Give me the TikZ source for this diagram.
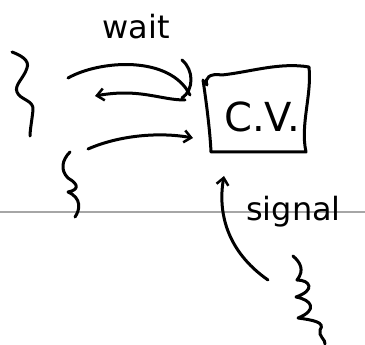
\documentclass[tikz,border=0pt]{standalone}
\usepackage{fontspec}
\setmainfont{DejaVu Sans}
\usetikzlibrary{arrows.meta}
\tikzset{
  ink/.style={line width=3pt, line cap=round, line join=round, black},
  handarrow/.style={ink, -{Straight Barb[length=7pt,width=12pt,line width=2.5pt]}},
  label/.style={inner sep=0pt},
}
\begin{document}
\begin{tikzpicture}[x=1pt,y=-1pt]
\useasboundingbox (0,0) rectangle (365,345);
% divider
\draw[gray!70, line width=1.6pt] (0,212) -- (365,212);
% threads (squiggles)
\draw[ink] (12,52) .. controls (20,55) and (30,60) .. (27,68) .. controls (24,78) and (14,85) .. (17,92)
  .. controls (20,100) and (34,100) .. (33,110) .. controls (32,120) and (30,130) .. (30,136);
\draw[ink] (70,152) .. controls (62,160) and (60,170) .. (68,178) .. controls (80,185) and (78,190) .. (68,192)
  .. controls (82,198) and (80,210) .. (75,217);
\draw[ink] (293,256) .. controls (300,262) and (305,270) .. (297,280) .. controls (310,280) and (316,290) .. (296,297)
  .. controls (312,300) and (318,310) .. (298,318) .. controls (312,320) and (326,322) .. (320,330)
  .. controls (318,336) and (326,340) .. (325,344);
% C.V. box
\node[inner sep=0pt, minimum width=100pt, minimum height=80pt] (cv) at (258,112) {};
\draw[ink] (207,85) .. controls (204,78) and (210,73) .. (222,75) .. controls (250,72) and (280,62) .. (309,67)
  .. controls (312,95) and (300,125) .. (306,152) .. controls (280,152) and (240,152) .. (211,152)
  .. controls (210,130) and (206,100) .. (203,80);
\node[font=\fontsize{40}{40}\selectfont, inner sep=0pt] (cvtext) at (262,117) {C.V.};
% arrows
\coordinate (w1) at (68,78);
\coordinate (w2) at (190,95);
\draw[ink] (w1) .. controls (100,60) and (170,55) .. (w2);
\draw[ink] (182,60) .. controls (194,70) and (194,90) .. (182,98);
\coordinate (r1) at (185,100);
\coordinate (r2) at (95,96);
\draw[handarrow] (r1) .. controls (160,100) and (140,88) .. (r2);
\coordinate (a1) at (88,149);
\coordinate (a2) at (193,138);
\draw[handarrow] (a1) .. controls (120,135) and (160,132) .. (a2);
% signal arrow
\coordinate (s1) at (268,280);
\coordinate (s2) at (224,176);
\draw[handarrow] (s1) .. controls (225,250) and (218,210) .. (s2);
% labels
\node[label, font=\fontsize{32}{32}\selectfont] (wait) at (136,27) {wait};
\node[label, anchor=west, font=\fontsize{32}{32}\selectfont] (signal) at (246,212) {signal};
\end{tikzpicture}
\end{document}
